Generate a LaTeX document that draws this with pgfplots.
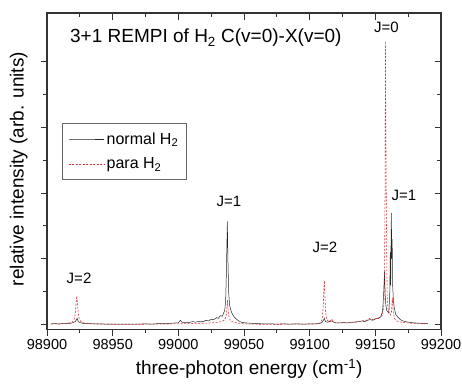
\documentclass[border=0pt]{standalone}
\usepackage{fontspec}
\setmainfont{Liberation Sans}
\usepackage{pgfplots}
\pgfplotsset{compat=1.18}
\definecolor{redd}{RGB}{210,50,50}
\begin{document}
\begin{tikzpicture}
\pgfplotsset{
  common/.style={
    at={(47pt,53.5pt)}, anchor=south west, scale only axis,
    width=394pt, height=316.5pt,
    xmin=98900, xmax=99200, ymin=-0.07, ymax=4.73,
    scaled x ticks=false, scaled y ticks=false,
    xtick={98900,98950,99000,99050,99100,99150,99200},
    minor x tick num=1,
    ytick={0,1,2,3,4}, minor y tick num=1,
    yticklabels={},
    axis line style={black!80, line width=1.3pt},
    every tick/.style={black!80, line width=1pt},
    major tick length=6.5pt, minor tick length=3.8pt,
  }
}
\begin{axis}[common,
  xtick pos=left, ytick pos=left, tick align=outside,
  /pgf/number format/assume math mode=true,
  /pgf/number format/1000 sep={},
  /pgf/number format/fixed,
  xticklabel style={font=\fontsize{14.5}{16}\selectfont, /pgf/number format/precision=0},
  xlabel={three-photon energy (cm\textsuperscript{-1})},
  ylabel={relative intensity (arb. units)},
  xlabel style={font=\fontsize{19}{22}\selectfont, at={(axis description cs:0.513,-0.125)}, anchor=center},
  ylabel style={font=\fontsize{19}{22}\selectfont, at={(axis description cs:-0.072,0.507)}, anchor=center, rotate=0},
  legend style={at={(axis description cs:0.038,0.652)}, anchor=north west,
    draw=black!60, line width=0.6pt, font=\fontsize{16}{18}\selectfont,
    inner xsep=6pt, inner ysep=7pt, row sep=8pt},
  legend cell align=left,
  legend image post style={xscale=2.1},
]
\addplot[color=black!85, draw=black!85, line width=0.5pt] coordinates {
(98903,0.015) (98906,0.02) (98909,0.015) (98912,0.02) (98915,0.02) (98918,0.025)
(98920,0.035) (98921.5,0.05) (98922.5,0.08) (98923,0.1) (98923.6,0.06) (98924.5,0.04)
(98926,0.03) (98928,0.02) (98932,0.02) (98936,0.015) (98940,0.015) (98945,0.012)
(98950,0.012) (98955,0.01) (98960,0.012) (98965,0.01) (98970,0.012) (98975,0.015)
(98980,0.012) (98985,0.02) (98990,0.018) (98995,0.025) (98998,0.03) (99000,0.03)
(99001.5,0.07) (99003,0.04) (99005,0.04) (99008,0.035) (99011,0.05) (99013,0.04)
(99016,0.055) (99019,0.05) (99021,0.07) (99023,0.06) (99025,0.085) (99027,0.08)
(99029,0.11) (99030.5,0.1) (99032,0.14) (99033.5,0.13) (99034.5,0.18) (99035.3,0.22)
(99036,0.35) (99036.6,0.8) (99037.3,1.57) (99037.8,0.95) (99038.3,0.5) (99039,0.3)
(99040,0.22) (99041,0.17) (99042.5,0.12) (99044,0.09) (99046,0.06) (99048,0.04)
(99051,0.03) (99055,0.025) (99060,0.02) (99065,0.015) (99070,0.015) (99075,0.012)
(99080,0.015) (99085,0.012) (99090,0.015) (99095,0.012) (99100,0.015) (99104,0.015)
(99107,0.02) (99109,0.03) (99110.5,0.07) (99111.2,0.1) (99112,0.05) (99113.5,0.04)
(99115,0.05) (99117,0.06) (99118.5,0.04) (99120,0.03) (99123,0.03) (99126,0.035)
(99129,0.03) (99132,0.04) (99135,0.045) (99138,0.05) (99140,0.06) (99142,0.05)
(99144,0.07) (99146,0.08) (99148,0.07) (99150,0.09) (99152,0.1) (99154,0.12)
(99155.5,0.2) (99156.4,0.5) (99157,0.81) (99157.5,0.45) (99158,0.3) (99158.7,0.22)
(99159.5,0.2) (99160.3,0.18) (99161,0.5) (99161.4,1.1) (99161.7,0.6) (99162,1.4)
(99162.2,1.7) (99162.5,1.0) (99162.8,1.3) (99163.2,0.6) (99163.8,0.35) (99164.5,0.25)
(99165.5,0.16) (99167,0.12) (99169,0.08) (99171,0.06) (99174,0.045) (99177,0.035)
(99180,0.03) (99184,0.025) (99188,0.02) (99190,0.02)
};
\addlegendentry{normal H\textsubscript{2}}
\addplot[color=redd, draw=redd, line width=0.55pt, dash pattern=on 2pt off 1.5pt] coordinates {
(98903,0.01) (98906,0.015) (98909,0.012) (98912,0.02) (98915,0.025) (98917,0.03)
(98919,0.04) (98920.5,0.07) (98921.5,0.16) (98922.2,0.35) (98922.7,0.44) (98923.2,0.32)
(98923.8,0.18) (98924.5,0.09) (98925.5,0.06) (98927,0.035) (98929,0.025) (98932,0.02)
(98936,0.015) (98940,0.012) (98945,0.01) (98950,0.01) (98955,0.008) (98960,0.01)
(98965,0.008) (98970,0.01) (98975,0.01) (98980,0.012) (98985,0.01) (98990,0.012)
(98995,0.015) (99000,0.015) (99005,0.02) (99010,0.02) (99015,0.025) (99020,0.025)
(99025,0.03) (99030,0.04) (99033,0.05) (99035,0.07) (99036.3,0.12) (99037,0.25)
(99037.5,0.38) (99038,0.2) (99038.8,0.1) (99040,0.06) (99042,0.04) (99046,0.025)
(99050,0.015) (99055,0.012) (99060,0.01) (99065,0.01) (99070,0.008) (99075,0.01)
(99080,0.01) (99085,0.012) (99090,0.01) (99095,0.012) (99100,0.012) (99105,0.015)
(99108,0.03) (99109.5,0.08) (99110.4,0.3) (99110.8,0.55) (99111.2,0.67) (99111.6,0.45)
(99112.1,0.2) (99113,0.08) (99114.5,0.05) (99116,0.07) (99117,0.09) (99118,0.05)
(99120,0.03) (99125,0.03) (99130,0.035) (99135,0.04) (99140,0.06) (99143,0.07)
(99146,0.1) (99148,0.08) (99150,0.1) (99152,0.09) (99154,0.12) (99155.5,0.15)
(99156.5,0.3) (99157,0.8) (99157.4,2.0) (99157.7,4.3) (99158.0,3.0) (99158.3,2.0)
(99158.6,1.2) (99159,0.45) (99159.6,0.25) (99160.5,0.18) (99161.5,0.15) (99162.3,0.2)
(99163,0.41) (99163.6,0.2) (99164.5,0.1) (99166,0.06) (99170,0.04) (99175,0.03)
(99180,0.02) (99185,0.02) (99190,0.015)
};
\addlegendentry{para H\textsubscript{2}}
\node[anchor=base west, inner sep=0pt, font=\fontsize{19}{22}\selectfont] at (axis cs:98917.5,4.28) {3+1 REMPI of H\textsubscript{2} C(v=0)-X(v=0)};
\node[font=\fontsize{15}{17}\selectfont] at (axis cs:98924.4,0.71) {J=2};
\node[font=\fontsize{15}{17}\selectfont] at (axis cs:99038.6,1.87) {J=1};
\node[font=\fontsize{15}{17}\selectfont] at (axis cs:99111.7,1.18) {J=2};
\node[font=\fontsize{15}{17}\selectfont] at (axis cs:99158.5,4.51) {J=0};
\node[font=\fontsize{15}{17}\selectfont] at (axis cs:99171.8,1.97) {J=1};
\end{axis}
\begin{axis}[common,
  xtick pos=right, ytick pos=right, tick align=inside,
  xticklabels={},
]
\end{axis}
\pgfresetboundingbox
\path[use as bounding box] (0,0) rectangle (462pt,383pt);
\end{tikzpicture}
\end{document}
